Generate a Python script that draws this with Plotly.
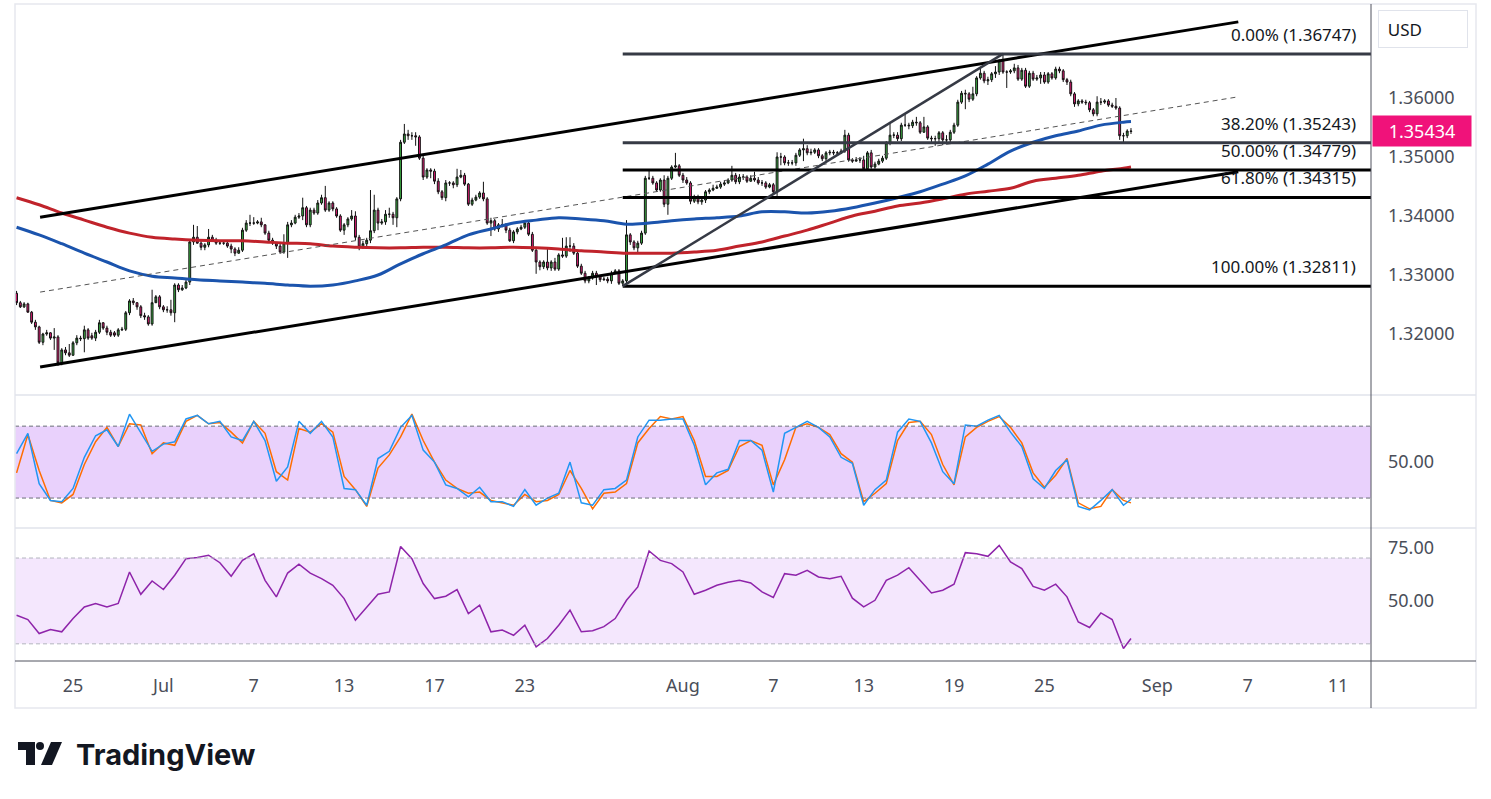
import pandas as pd
import plotly.graph_objects as go
from plotly.subplots import make_subplots

# 4H candles, 22 Jun - 28 Aug 2026 (weekdays only)
opens = [
    1.3269, 1.3253, 1.3246, 1.3251, 1.3237, 1.3220, 1.3212, 1.3186, 1.3200, 1.3202,
    1.3193, 1.3195, 1.3151, 1.3173, 1.3168, 1.3164, 1.3185, 1.3193, 1.3192, 1.3207,
    1.3197, 1.3193, 1.3203, 1.3219, 1.3210, 1.3203, 1.3202, 1.3198, 1.3207, 1.3208,
    1.3236, 1.3256, 1.3253, 1.3246, 1.3231, 1.3229, 1.3217, 1.3253, 1.3263, 1.3246,
    1.3241, 1.3241, 1.3236, 1.3283, 1.3275, 1.3278, 1.3288, 1.3356, 1.3364, 1.3354,
    1.3347, 1.3351, 1.3364, 1.3359, 1.3354, 1.3354, 1.3354, 1.3349, 1.3344, 1.3337,
    1.3342, 1.3376, 1.3388, 1.3388, 1.3388, 1.3390, 1.3385, 1.3371, 1.3359, 1.3354,
    1.3349, 1.3339, 1.3354, 1.3385, 1.3388, 1.3398, 1.3400, 1.3414, 1.3385, 1.3410,
    1.3405, 1.3422, 1.3431, 1.3410, 1.3422, 1.3412, 1.3400, 1.3376, 1.3385, 1.3395,
    1.3400, 1.3364, 1.3347, 1.3353, 1.3359, 1.3375, 1.3410, 1.3388, 1.3390, 1.3403,
    1.3403, 1.3397, 1.3429, 1.3525, 1.3539, 1.3536, 1.3536, 1.3534, 1.3498, 1.3466,
    1.3478, 1.3476, 1.3459, 1.3441, 1.3431, 1.3456, 1.3456, 1.3453, 1.3466, 1.3469,
    1.3454, 1.3420, 1.3427, 1.3432, 1.3439, 1.3429, 1.3388, 1.3392, 1.3378, 1.3385,
    1.3385, 1.3376, 1.3358, 1.3373, 1.3378, 1.3381, 1.3388, 1.3369, 1.3342, 1.3322,
    1.3314, 1.3322, 1.3312, 1.3322, 1.3310, 1.3334, 1.3332, 1.3349, 1.3349, 1.3337,
    1.3315, 1.3303, 1.3290, 1.3295, 1.3303, 1.3297, 1.3292, 1.3293, 1.3290, 1.3303,
    1.3307, 1.3286, 1.3290, 1.3368, 1.3356, 1.3346, 1.3354, 1.3371, 1.3464, 1.3464,
    1.3456, 1.3444, 1.3461, 1.3420, 1.3464, 1.3483, 1.3485, 1.3469, 1.3461, 1.3456,
    1.3425, 1.3432, 1.3424, 1.3427, 1.3441, 1.3444, 1.3447, 1.3449, 1.3454, 1.3456,
    1.3461, 1.3469, 1.3458, 1.3466, 1.3466, 1.3459, 1.3464, 1.3461, 1.3456, 1.3456,
    1.3449, 1.3453, 1.3441, 1.3500, 1.3500, 1.3490, 1.3490, 1.3490, 1.3503, 1.3512,
    1.3514, 1.3507, 1.3508, 1.3512, 1.3502, 1.3497, 1.3507, 1.3508, 1.3507, 1.3507,
    1.3510, 1.3537, 1.3495, 1.3493, 1.3495, 1.3495, 1.3480, 1.3507, 1.3483, 1.3488,
    1.3493, 1.3498, 1.3524, 1.3537, 1.3537, 1.3531, 1.3554, 1.3554, 1.3553, 1.3559,
    1.3558, 1.3542, 1.3551, 1.3532, 1.3531, 1.3531, 1.3541, 1.3529, 1.3529, 1.3542,
    1.3554, 1.3593, 1.3608, 1.3607, 1.3598, 1.3607, 1.3634, 1.3642, 1.3629, 1.3631,
    1.3641, 1.3644, 1.3663, 1.3644, 1.3644, 1.3646, 1.3651, 1.3632, 1.3647, 1.3620,
    1.3642, 1.3632, 1.3634, 1.3639, 1.3627, 1.3641, 1.3634, 1.3649, 1.3646, 1.3631,
    1.3627, 1.3607, 1.3590, 1.3595, 1.3593, 1.3592, 1.3580, 1.3573, 1.3593, 1.3593,
    1.3595, 1.3588, 1.3586, 1.3583, 1.3536, 1.3536, 1.3544,
]
highs = [
    1.3273, 1.3256, 1.3254, 1.3253, 1.3239, 1.3224, 1.3214, 1.3202, 1.3207, 1.3203,
    1.3210, 1.3198, 1.3176, 1.3178, 1.3183, 1.3188, 1.3198, 1.3197, 1.3214, 1.3210,
    1.3202, 1.3207, 1.3224, 1.3220, 1.3214, 1.3207, 1.3205, 1.3210, 1.3212, 1.3239,
    1.3259, 1.3261, 1.3254, 1.3249, 1.3236, 1.3232, 1.3275, 1.3266, 1.3266, 1.3249,
    1.3247, 1.3258, 1.3286, 1.3286, 1.3283, 1.3292, 1.3359, 1.3385, 1.3383, 1.3358,
    1.3354, 1.3378, 1.3368, 1.3363, 1.3359, 1.3358, 1.3358, 1.3353, 1.3347, 1.3347,
    1.3380, 1.3393, 1.3402, 1.3398, 1.3393, 1.3397, 1.3386, 1.3375, 1.3363, 1.3356,
    1.3356, 1.3369, 1.3390, 1.3393, 1.3402, 1.3405, 1.3431, 1.3417, 1.3414, 1.3414,
    1.3427, 1.3436, 1.3451, 1.3425, 1.3425, 1.3415, 1.3403, 1.3388, 1.3398, 1.3410,
    1.3408, 1.3368, 1.3358, 1.3363, 1.3444, 1.3436, 1.3414, 1.3395, 1.3410, 1.3414,
    1.3407, 1.3432, 1.3529, 1.3556, 1.3546, 1.3542, 1.3542, 1.3537, 1.3503, 1.3481,
    1.3481, 1.3480, 1.3464, 1.3444, 1.3461, 1.3459, 1.3459, 1.3480, 1.3478, 1.3473,
    1.3456, 1.3431, 1.3436, 1.3442, 1.3458, 1.3432, 1.3397, 1.3395, 1.3388, 1.3395,
    1.3388, 1.3380, 1.3376, 1.3381, 1.3385, 1.3393, 1.3392, 1.3373, 1.3346, 1.3325,
    1.3325, 1.3346, 1.3325, 1.3329, 1.3337, 1.3363, 1.3364, 1.3364, 1.3354, 1.3341,
    1.3319, 1.3307, 1.3298, 1.3307, 1.3307, 1.3300, 1.3297, 1.3297, 1.3307, 1.3310,
    1.3310, 1.3293, 1.3393, 1.3371, 1.3359, 1.3358, 1.3375, 1.3468, 1.3478, 1.3468,
    1.3459, 1.3464, 1.3469, 1.3468, 1.3486, 1.3507, 1.3488, 1.3473, 1.3466, 1.3459,
    1.3436, 1.3436, 1.3431, 1.3444, 1.3447, 1.3453, 1.3453, 1.3458, 1.3461, 1.3464,
    1.3485, 1.3473, 1.3471, 1.3471, 1.3469, 1.3469, 1.3475, 1.3466, 1.3461, 1.3459,
    1.3456, 1.3456, 1.3508, 1.3507, 1.3503, 1.3495, 1.3495, 1.3507, 1.3515, 1.3531,
    1.3520, 1.3514, 1.3515, 1.3515, 1.3505, 1.3510, 1.3512, 1.3512, 1.3510, 1.3514,
    1.3546, 1.3541, 1.3498, 1.3500, 1.3500, 1.3502, 1.3510, 1.3512, 1.3492, 1.3497,
    1.3502, 1.3527, 1.3559, 1.3542, 1.3542, 1.3558, 1.3573, 1.3558, 1.3563, 1.3568,
    1.3561, 1.3568, 1.3554, 1.3536, 1.3536, 1.3544, 1.3544, 1.3537, 1.3546, 1.3558,
    1.3597, 1.3612, 1.3614, 1.3610, 1.3619, 1.3637, 1.3651, 1.3646, 1.3636, 1.3644,
    1.3654, 1.3666, 1.3675, 1.3647, 1.3649, 1.3658, 1.3656, 1.3651, 1.3651, 1.3646,
    1.3646, 1.3639, 1.3644, 1.3644, 1.3644, 1.3644, 1.3653, 1.3653, 1.3649, 1.3634,
    1.3631, 1.3610, 1.3598, 1.3598, 1.3597, 1.3595, 1.3583, 1.3603, 1.3600, 1.3598,
    1.3598, 1.3592, 1.3600, 1.3586, 1.3541, 1.3547, 1.3549,
]
lows = [
    1.3249, 1.3244, 1.3244, 1.3236, 1.3217, 1.3207, 1.3183, 1.3181, 1.3197, 1.3190,
    1.3173, 1.3146, 1.3147, 1.3164, 1.3161, 1.3163, 1.3181, 1.3188, 1.3169, 1.3190,
    1.3190, 1.3188, 1.3200, 1.3207, 1.3198, 1.3195, 1.3195, 1.3195, 1.3205, 1.3205,
    1.3232, 1.3249, 1.3241, 1.3227, 1.3224, 1.3214, 1.3214, 1.3258, 1.3242, 1.3237,
    1.3236, 1.3231, 1.3220, 1.3271, 1.3273, 1.3276, 1.3283, 1.3351, 1.3353, 1.3342,
    1.3342, 1.3347, 1.3356, 1.3351, 1.3351, 1.3351, 1.3346, 1.3337, 1.3332, 1.3336,
    1.3339, 1.3373, 1.3383, 1.3385, 1.3386, 1.3381, 1.3368, 1.3356, 1.3351, 1.3344,
    1.3336, 1.3336, 1.3329, 1.3381, 1.3386, 1.3395, 1.3393, 1.3381, 1.3381, 1.3402,
    1.3402, 1.3419, 1.3407, 1.3407, 1.3408, 1.3397, 1.3373, 1.3368, 1.3381, 1.3392,
    1.3359, 1.3342, 1.3344, 1.3349, 1.3354, 1.3371, 1.3376, 1.3385, 1.3385, 1.3397,
    1.3385, 1.3381, 1.3425, 1.3522, 1.3529, 1.3529, 1.3519, 1.3495, 1.3461, 1.3463,
    1.3464, 1.3454, 1.3437, 1.3427, 1.3425, 1.3451, 1.3447, 1.3449, 1.3464, 1.3451,
    1.3417, 1.3417, 1.3425, 1.3429, 1.3425, 1.3385, 1.3366, 1.3375, 1.3373, 1.3381,
    1.3371, 1.3356, 1.3354, 1.3369, 1.3376, 1.3378, 1.3366, 1.3339, 1.3302, 1.3308,
    1.3310, 1.3308, 1.3307, 1.3307, 1.3307, 1.3329, 1.3329, 1.3339, 1.3334, 1.3312,
    1.3300, 1.3286, 1.3286, 1.3292, 1.3283, 1.3288, 1.3290, 1.3286, 1.3285, 1.3302,
    1.3283, 1.3281, 1.3285, 1.3351, 1.3342, 1.3336, 1.3351, 1.3368, 1.3461, 1.3453,
    1.3441, 1.3441, 1.3415, 1.3402, 1.3461, 1.3481, 1.3466, 1.3456, 1.3453, 1.3420,
    1.3422, 1.3420, 1.3419, 1.3422, 1.3437, 1.3442, 1.3446, 1.3446, 1.3451, 1.3454,
    1.3458, 1.3454, 1.3454, 1.3461, 1.3456, 1.3458, 1.3458, 1.3453, 1.3451, 1.3446,
    1.3447, 1.3437, 1.3434, 1.3486, 1.3486, 1.3485, 1.3486, 1.3485, 1.3500, 1.3493,
    1.3503, 1.3503, 1.3505, 1.3498, 1.3493, 1.3493, 1.3503, 1.3503, 1.3503, 1.3505,
    1.3507, 1.3492, 1.3490, 1.3492, 1.3490, 1.3478, 1.3478, 1.3480, 1.3480, 1.3486,
    1.3490, 1.3495, 1.3520, 1.3532, 1.3527, 1.3527, 1.3551, 1.3547, 1.3549, 1.3553,
    1.3539, 1.3541, 1.3529, 1.3522, 1.3519, 1.3524, 1.3520, 1.3525, 1.3525, 1.3539,
    1.3551, 1.3590, 1.3581, 1.3593, 1.3595, 1.3603, 1.3631, 1.3625, 1.3622, 1.3627,
    1.3634, 1.3639, 1.3641, 1.3617, 1.3641, 1.3642, 1.3629, 1.3629, 1.3617, 1.3617,
    1.3629, 1.3629, 1.3624, 1.3624, 1.3624, 1.3631, 1.3631, 1.3642, 1.3627, 1.3622,
    1.3603, 1.3585, 1.3586, 1.3590, 1.3588, 1.3576, 1.3569, 1.3569, 1.3588, 1.3590,
    1.3585, 1.3583, 1.3580, 1.3529, 1.3525, 1.3532, 1.3539,
]
closes = [
    1.3253, 1.3246, 1.3251, 1.3237, 1.3220, 1.3212, 1.3186, 1.3200, 1.3202, 1.3193,
    1.3195, 1.3151, 1.3173, 1.3168, 1.3164, 1.3185, 1.3193, 1.3192, 1.3207, 1.3193,
    1.3193, 1.3203, 1.3219, 1.3210, 1.3203, 1.3198, 1.3198, 1.3207, 1.3208, 1.3236,
    1.3256, 1.3253, 1.3246, 1.3231, 1.3229, 1.3217, 1.3253, 1.3263, 1.3246, 1.3241,
    1.3241, 1.3236, 1.3283, 1.3275, 1.3278, 1.3288, 1.3356, 1.3364, 1.3354, 1.3347,
    1.3351, 1.3364, 1.3359, 1.3354, 1.3354, 1.3354, 1.3349, 1.3344, 1.3337, 1.3342,
    1.3376, 1.3388, 1.3388, 1.3388, 1.3390, 1.3385, 1.3371, 1.3359, 1.3354, 1.3349,
    1.3339, 1.3354, 1.3385, 1.3388, 1.3398, 1.3400, 1.3414, 1.3385, 1.3410, 1.3405,
    1.3422, 1.3431, 1.3410, 1.3422, 1.3412, 1.3400, 1.3376, 1.3385, 1.3395, 1.3400,
    1.3364, 1.3347, 1.3353, 1.3359, 1.3375, 1.3410, 1.3388, 1.3390, 1.3403, 1.3403,
    1.3397, 1.3429, 1.3525, 1.3539, 1.3536, 1.3536, 1.3534, 1.3498, 1.3466, 1.3478,
    1.3476, 1.3459, 1.3441, 1.3431, 1.3456, 1.3456, 1.3453, 1.3466, 1.3469, 1.3454,
    1.3420, 1.3427, 1.3432, 1.3439, 1.3429, 1.3388, 1.3392, 1.3378, 1.3385, 1.3385,
    1.3376, 1.3358, 1.3373, 1.3378, 1.3381, 1.3388, 1.3369, 1.3342, 1.3322, 1.3314,
    1.3322, 1.3312, 1.3322, 1.3310, 1.3334, 1.3332, 1.3349, 1.3349, 1.3337, 1.3315,
    1.3303, 1.3290, 1.3295, 1.3303, 1.3297, 1.3292, 1.3293, 1.3290, 1.3303, 1.3307,
    1.3286, 1.3290, 1.3368, 1.3356, 1.3346, 1.3354, 1.3371, 1.3464, 1.3464, 1.3456,
    1.3444, 1.3461, 1.3420, 1.3464, 1.3483, 1.3485, 1.3469, 1.3461, 1.3456, 1.3425,
    1.3432, 1.3424, 1.3427, 1.3441, 1.3444, 1.3447, 1.3449, 1.3454, 1.3456, 1.3461,
    1.3469, 1.3458, 1.3466, 1.3466, 1.3459, 1.3464, 1.3461, 1.3456, 1.3456, 1.3449,
    1.3453, 1.3441, 1.3500, 1.3500, 1.3490, 1.3490, 1.3490, 1.3503, 1.3512, 1.3514,
    1.3507, 1.3508, 1.3512, 1.3502, 1.3497, 1.3507, 1.3508, 1.3507, 1.3507, 1.3510,
    1.3537, 1.3495, 1.3493, 1.3495, 1.3495, 1.3480, 1.3507, 1.3483, 1.3488, 1.3493,
    1.3498, 1.3524, 1.3537, 1.3537, 1.3531, 1.3554, 1.3554, 1.3553, 1.3559, 1.3558,
    1.3542, 1.3551, 1.3532, 1.3531, 1.3531, 1.3541, 1.3529, 1.3529, 1.3542, 1.3554,
    1.3593, 1.3608, 1.3607, 1.3598, 1.3607, 1.3634, 1.3642, 1.3629, 1.3631, 1.3641,
    1.3644, 1.3663, 1.3644, 1.3644, 1.3646, 1.3651, 1.3632, 1.3647, 1.3620, 1.3642,
    1.3632, 1.3634, 1.3639, 1.3627, 1.3641, 1.3634, 1.3649, 1.3646, 1.3631, 1.3627,
    1.3607, 1.3590, 1.3595, 1.3593, 1.3592, 1.3580, 1.3573, 1.3593, 1.3593, 1.3595,
    1.3588, 1.3586, 1.3583, 1.3536, 1.3536, 1.3544, 1.35434,
]

# moving averages, one reading per trading day (noon) plus the last bar
ma_blue = [
    1.3381, 1.3368, 1.3353, 1.3337, 1.3322, 1.3307, 1.3298, 1.3295, 1.3292, 1.3290,
    1.3288, 1.3286, 1.3283, 1.3281, 1.3283, 1.3290, 1.3300, 1.3319, 1.3336, 1.3351,
    1.3368, 1.3378, 1.3388, 1.3393, 1.3397, 1.3395, 1.3392, 1.3386, 1.3388, 1.3392,
    1.3395, 1.3397, 1.3400, 1.3407, 1.3407, 1.3405, 1.3408, 1.3414, 1.3422, 1.3431,
    1.3441, 1.3454, 1.3468, 1.3488, 1.3510, 1.3525, 1.3536, 1.3544, 1.3554, 1.3559, 1.3560,
]
ma_red = [
    1.3431, 1.3419, 1.3405, 1.3393, 1.3381, 1.3371, 1.3364, 1.3361, 1.3359, 1.3358,
    1.3358, 1.3356, 1.3354, 1.3353, 1.3349, 1.3347, 1.3346, 1.3346, 1.3347, 1.3347,
    1.3346, 1.3346, 1.3347, 1.3346, 1.3344, 1.3341, 1.3339, 1.3337, 1.3337, 1.3337,
    1.3339, 1.3342, 1.3349, 1.3356, 1.3366, 1.3376, 1.3388, 1.3400, 1.3408, 1.3417,
    1.3422, 1.3429, 1.3437, 1.3442, 1.3447, 1.3459, 1.3464, 1.3469, 1.3476, 1.3481, 1.3483,
]

# oscillators, one reading every third bar plus the last bar
stoch_k = [
    57, 74, 32, 18, 17, 28, 54, 72, 77, 63, 90, 74, 59, 65, 67, 86, 89, 82, 84, 71,
    68, 84, 68, 34, 46, 84, 74, 84, 71, 28, 27, 14, 53, 59, 79, 89, 60, 50, 31, 28,
    21, 29, 17, 17, 13, 27, 14, 20, 24, 50, 16, 14, 27, 28, 35, 71, 85, 85, 86, 86,
    64, 31, 41, 44, 68, 68, 60, 25, 74, 79, 84, 79, 71, 54, 49, 14, 27, 35, 75, 86,
    84, 66, 42, 32, 81, 80, 85, 89, 75, 63, 36, 28, 43, 52, 13, 10, 18, 27, 14, 19,
]
stoch_d = [
    41, 73, 43, 18, 16, 23, 48, 67, 79, 63, 82, 81, 57, 66, 64, 84, 89, 82, 83, 75,
    66, 84, 74, 42, 35, 78, 75, 82, 75, 38, 27, 13, 45, 56, 71, 90, 68, 50, 35, 28,
    24, 25, 18, 16, 14, 23, 17, 18, 23, 43, 28, 11, 24, 25, 32, 66, 78, 88, 86, 88,
    68, 38, 38, 43, 63, 68, 64, 31, 52, 79, 82, 79, 73, 57, 50, 17, 24, 32, 68, 83,
    84, 73, 48, 31, 71, 79, 84, 88, 79, 66, 41, 29, 39, 53, 16, 11, 13, 27, 18, 16,
]
rsi = [
    43.3, 41.3, 34.8, 36.7, 35.6, 41.8, 47.2, 48.8, 47.2, 48.8,
    63.5, 53.1, 59.3, 55.3, 62.0, 69.7, 70.2, 71.3, 67.8, 61.5,
    68.9, 72.0, 59.6, 51.9, 63.0, 67.1, 63.0, 60.4, 57.3, 51.1,
    41.0, 47.2, 53.1, 54.2, 75.4, 69.7, 58.1, 51.1, 52.2, 55.3,
    44.1, 48.0, 35.6, 36.4, 34.0, 38.7, 28.6, 32.5, 38.7, 45.7,
    35.6, 36.1, 38.0, 41.8, 50.3, 56.5, 73.3, 68.9, 67.4, 63.5,
    53.1, 55.0, 57.3, 58.7, 59.6, 58.4, 54.2, 51.6, 62.7, 62.0,
    64.3, 61.2, 60.4, 61.5, 51.3, 47.2, 50.3, 59.6, 62.0, 65.5,
    59.6, 53.7, 55.0, 57.8, 72.5, 72.0, 70.8, 75.9, 68.2, 65.1,
    56.8, 55.0, 57.8, 51.9, 40.2, 37.6, 44.4, 41.3, 27.8, 32.5,
]

# drawings: channel, fib retracement
channel_x = ["2026-06-23 13:00", "2026-09-04 14:00"]
channel_upper = [1.3398, 1.3729]
channel_lower = [1.3144, 1.3475]
channel_mid = [1.3271, 1.3602]
fib_x = ["2026-07-29 08:00", "2026-08-21 04:00"]
fib_y = [1.32811, 1.36747]
fib_ratios = ["0.00%", "38.20%", "50.00%", "61.80%", "100.00%"]
fib_levels = [1.36747, 1.35243, 1.34779, 1.34315, 1.32811]
last_price = 1.35434

tick_dates = ["2026-06-25", "2026-07-01", "2026-07-07", "2026-07-13", "2026-07-17",
              "2026-07-23", "2026-08-03", "2026-08-07", "2026-08-13", "2026-08-19",
              "2026-08-25", "2026-09-01", "2026-09-07", "2026-09-11"]
tick_text = ["25", "Jul", "7", "13", "17", "23", "Aug", "7", "13", "19", "25", "Sep", "7", "11"]

x_start, x_end = "2026-06-22 10:20", "2026-09-14 11:00"

days = pd.bdate_range("2026-06-22", "2026-08-28")
bar_times = [d + pd.Timedelta(hours=h) for d in days for h in range(0, 24, 4)][3:]
ma_times = bar_times[::6] + [bar_times[-1]]
osc_times = bar_times[::3] + [bar_times[-1]]

FONT = "Noto Sans"
AXIS_TXT = "#4a4e59"
GREEN, PINK = "#3cb043", "#e91e7a"

fig = make_subplots(rows=3, cols=1, shared_xaxes=True, vertical_spacing=0,
                    row_heights=[390, 133, 133])

fig.add_trace(go.Candlestick(
    x=bar_times, open=opens, high=highs, low=lows, close=closes,
    increasing=dict(fillcolor=GREEN, line=dict(color="#111", width=1)),
    decreasing=dict(fillcolor=PINK, line=dict(color="#111", width=1)),
    whiskerwidth=0, showlegend=False, hoverinfo="skip"), row=1, col=1)

fig.add_trace(go.Scatter(x=ma_times, y=ma_red, mode="lines", line=dict(color="#c0232b", width=3, shape="spline"),
                         showlegend=False, hoverinfo="skip"), row=1, col=1)
fig.add_trace(go.Scatter(x=ma_times, y=ma_blue, mode="lines", line=dict(color="#1b54ad", width=3, shape="spline"),
                         showlegend=False, hoverinfo="skip"), row=1, col=1)

# channel
for ys in (channel_upper, channel_lower):
    fig.add_trace(go.Scatter(x=channel_x, y=ys, mode="lines", line=dict(color="#000", width=3),
                             showlegend=False, hoverinfo="skip"), row=1, col=1)
fig.add_trace(go.Scatter(x=channel_x, y=channel_mid, mode="lines",
                         line=dict(color="#555", width=1, dash="5px,4px"),
                         showlegend=False, hoverinfo="skip"), row=1, col=1)

# fib levels
for i, (lab, lvl) in enumerate(zip(fib_ratios, fib_levels)):
    col = "#363a45" if i < 2 else "#000"
    fig.add_trace(go.Scatter(x=[fib_x[0], x_end], y=[lvl, lvl], mode="lines",
                             line=dict(color=col, width=3), showlegend=False, hoverinfo="skip"),
                  row=1, col=1)
    fig.add_annotation(x=(1358 - 15) / 1356, xref="paper", y=lvl, yref="y", xanchor="right",
                       yanchor="bottom", yshift=6, showarrow=False, text=f"{lab} ({lvl:.5f})",
                       font=dict(family=FONT, size=17, color="#131722"))
fig.add_trace(go.Scatter(x=fib_x, y=fib_y, mode="lines", line=dict(color="#363a45", width=2.5),
                         showlegend=False, hoverinfo="skip"), row=1, col=1)

# stochastic
fig.add_trace(go.Scatter(x=osc_times, y=stoch_d, mode="lines", line=dict(color="#ff6d00", width=1.5),
                         showlegend=False, hoverinfo="skip"), row=2, col=1)
fig.add_trace(go.Scatter(x=osc_times, y=stoch_k, mode="lines", line=dict(color="#2196f3", width=1.5),
                         showlegend=False, hoverinfo="skip"), row=2, col=1)
# rsi
fig.add_trace(go.Scatter(x=osc_times, y=rsi, mode="lines", line=dict(color="#8e24aa", width=1.5),
                         showlegend=False, hoverinfo="skip"), row=3, col=1)

# bands
fig.add_shape(type="rect", xref="paper", x0=0, x1=1, yref="y2", y0=20, y1=80,
              fillcolor="#e9d1fc", line_width=0, layer="below")
for v in (20, 80):
    fig.add_shape(type="line", xref="paper", x0=0, x1=1, yref="y2", y0=v, y1=v,
                  line=dict(color="#6a6d78", width=1, dash="4px,3px"))
fig.add_shape(type="rect", xref="paper", x0=0, x1=1, yref="y3", y0=30, y1=70,
              fillcolor="#f4e7fd", line_width=0, layer="below")
for v in (30, 70):
    fig.add_shape(type="line", xref="paper", x0=0, x1=1, yref="y3", y0=v, y1=v,
                  line=dict(color="#b2b5be", width=1, dash="4px,3px"))


def pp(x, y):
    return (x - 15) / 1356, (661 - y) / 656


# frame and pane separators
x0, y0 = pp(15, 4)
x1, y1 = pp(1476, 708)
fig.add_shape(type="rect", xref="paper", yref="paper", x0=x0, y0=y0, x1=x1, y1=y1,
              line=dict(color="#e6e8ee", width=1.5))
for yy in (395, 528):
    a, b = pp(15, yy)
    c, _ = pp(1476, yy)
    fig.add_shape(type="line", xref="paper", yref="paper", x0=a, x1=c, y0=b, y1=b,
                  line=dict(color="#e0e3eb", width=1.5))
a, b = pp(15, 661)
c, _ = pp(1476, 661)
fig.add_shape(type="line", xref="paper", yref="paper", x0=a, x1=c, y0=b, y1=b,
              line=dict(color="#50535e", width=1))
a, b = pp(1371, 4)
_, d = pp(1371, 708)
fig.add_shape(type="line", xref="paper", yref="paper", x0=a, x1=a, y0=b, y1=d,
              line=dict(color="#50535e", width=1))

# last price tag
fig.add_annotation(x=1.0, xref="paper", xanchor="left", xshift=1, y=last_price, yref="y",
                   text=f"{last_price:.5f}", showarrow=False, bgcolor="#f0127a", width=96, height=28,
                   font=dict(family=FONT, size=18, color="white"))
# currency box
ux, uy = pp(1378, 10)
fig.add_annotation(x=ux, y=uy, xref="paper", yref="paper", xanchor="left", yanchor="top",
                   text="  USD", showarrow=False, width=88, height=36, align="left",
                   bordercolor="#e0e3eb", borderwidth=1, borderpad=0, bgcolor="white",
                   font=dict(family=FONT, size=17, color="#131722"))


# TradingView logo
def path(pts):
    return "M " + " L ".join(f"{pp(x, y)[0]:.5f},{pp(x, y)[1]:.5f}" for x, y in pts) + " Z"


fig.add_shape(type="path", xref="paper", yref="paper", line_width=0, fillcolor="#131722",
              path=path([(18, 742), (35, 742), (35, 765), (26, 765), (26, 750), (18, 750)]))
fig.add_shape(type="path", xref="paper", yref="paper", line_width=0, fillcolor="#131722",
              path=path([(51, 742), (62, 742), (52, 765), (41, 765)]))
cx0, cy0 = pp(36, 742)
cx1, cy1 = pp(44, 750)
fig.add_shape(type="circle", xref="paper", yref="paper", x0=cx0, y0=cy0, x1=cx1, y1=cy1,
              line_width=0, fillcolor="#131722")
tx, ty = pp(74, 754)
fig.add_annotation(x=tx, y=ty, xref="paper", yref="paper", xanchor="left", yanchor="middle",
                   text="<b>TradingView</b>", showarrow=False,
                   font=dict(family="Inter", size=29, color="#131722"))

fig.update_xaxes(range=[x_start, x_end], rangebreaks=[dict(bounds=["sat", "mon"])],
                 rangeslider_visible=False, showgrid=False, zeroline=False, showline=False,
                 tickvals=tick_dates, ticktext=tick_text, ticks="",
                 tickfont=dict(family=FONT, size=18, color=AXIS_TXT))
fig.update_xaxes(ticklabelstandoff=12, row=3, col=1)
fig.update_yaxes(side="right", showgrid=False, zeroline=False, showline=False, ticks="",
                 ticklabelstandoff=16, tickfont=dict(family=FONT, size=18, color=AXIS_TXT))
fig.update_yaxes(range=[1.30966, 1.37576], tickvals=[1.32, 1.33, 1.34, 1.35, 1.36],
                 tickformat=".5f", row=1, col=1)
fig.update_yaxes(range=[-5, 106], tickvals=[50], ticktext=["50.00"], row=2, col=1)
fig.update_yaxes(range=[22, 84], tickvals=[50, 75], ticktext=["50.00", "75.00"], row=3, col=1)

fig.update_layout(width=1491, height=799, margin=dict(l=15, r=120, t=5, b=138),
                  paper_bgcolor="white", plot_bgcolor="white", showlegend=False,
                  font=dict(family=FONT))

fig.write_html("out.html", config={"displayModeBar": False},
               post_script="document.body.style.margin='0px';")
